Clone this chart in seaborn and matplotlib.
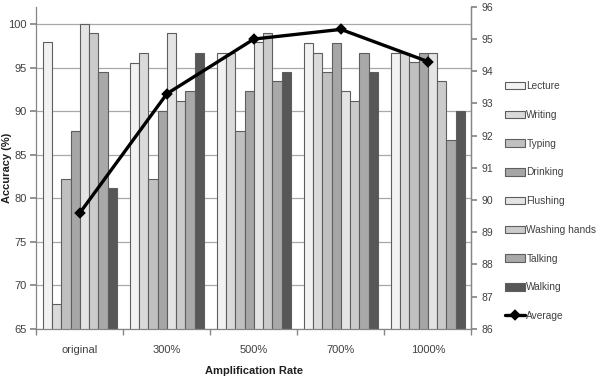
import matplotlib
matplotlib.use("Agg")
import matplotlib.pyplot as plt
from matplotlib.ticker import FixedLocator, NullFormatter
import seaborn as sns
import pandas as pd

sns.set_theme(style="white")
plt.rcParams["font.family"] = ["Liberation Sans", "DejaVu Sans"]

# data
rates = ["original", "300%", "500%", "700%", "1000%"]
activities = ["Lecture", "Writing", "Typing", "Drinking", "Flushing",
              "Washing hands", "Talking", "Walking"]
lecture = [98.0, 95.6, 96.7, 97.9, 96.7]
writing = [67.8, 96.7, 96.7, 96.7, 96.7]
typing = [82.2, 82.2, 87.7, 94.5, 95.7]
drinking = [87.7, 90.0, 92.3, 97.9, 96.7]
flushing = [100.0, 99.0, 98.0, 92.3, 96.7]
washing = [99.0, 91.2, 99.0, 91.2, 93.5]
talking = [94.5, 92.3, 93.5, 96.7, 86.7]
walking = [81.2, 96.7, 94.5, 94.5, 90.0]
average = [89.6, 93.3, 95.0, 95.3, 94.3]

colors = ["#f2f2f2", "#dadada", "#c0c0c0", "#a6a6a6", "#e4e4e4",
          "#cbcbcb", "#a9a9a9", "#575757"]

series = [lecture, writing, typing, drinking, flushing, washing, talking, walking]
rows = []
for act, vals in zip(activities, series):
    for r, v in zip(rates, vals):
        rows.append({"rate": r, "activity": act, "acc": v})
df = pd.DataFrame(rows)
avg_df = pd.DataFrame({"rate": rates, "avg": average})

fig = plt.figure(figsize=(5.96, 3.81), dpi=100)
ax = fig.add_axes([0.061, 0.137, 0.730, 0.845])

sns.barplot(data=df, x="rate", y="acc", hue="activity", order=rates,
            hue_order=activities, palette=colors, width=0.85,
            edgecolor="#5e5e5e", linewidth=0.8, ax=ax)
handles, labels = ax.get_legend_handles_labels()
ax.get_legend().remove()

ax.set_ylim(65, 102)
ax.set_yticks(range(65, 101, 5))
ax.set_xlim(-0.5, 4.5)
ax.yaxis.grid(True, color="#a8a8a8", linewidth=0.9)
ax.set_axisbelow(True)
ax.xaxis.set_minor_locator(FixedLocator([i - 0.5 for i in range(6)]))
ax.xaxis.set_minor_formatter(NullFormatter())
ax.tick_params(axis="x", which="major", length=0, labelsize=8,
               labelcolor="#404040", pad=12)
ax.tick_params(axis="x", which="minor", length=4, color="#868686",
               direction="out", bottom=True)
ax.tick_params(axis="y", length=4, color="#868686", left=True,
               labelsize=8, labelcolor="#404040", pad=3)
ax.spines["top"].set_visible(False)
for s in ["left", "bottom", "right"]:
    ax.spines[s].set_color("#868686")
    ax.spines[s].set_linewidth(0.9)

ax.set_xlabel("Amplification Rate", fontsize=8, color="#202020",
              fontweight="bold")
ax.xaxis.set_label_coords(0.5, -0.115)
ax.set_ylabel("Accuracy (%)", fontsize=8, color="#202020",
              fontweight="bold")
ax.yaxis.set_label_coords(-0.056, 0.5)

ax2 = ax.twinx()
sns.pointplot(data=avg_df, x="rate", y="avg", order=rates, color="black",
              markers="D", markersize=4, linewidth=2.4, ax=ax2,
              label="Average")
if ax2.get_legend() is not None:
    ax2.get_legend().remove()
ax2.set_ylim(86, 96)
ax2.set_yticks(range(86, 97))
ax2.set_ylabel("")
ax2.set_xlabel("")
ax2.tick_params(axis="y", length=4, color="#868686", right=True,
                labelsize=7.5, labelcolor="#404040", pad=3)
for s in ["top", "left", "bottom"]:
    ax2.spines[s].set_visible(False)
ax2.spines["right"].set_color("#868686")
ax2.spines["right"].set_linewidth(0.9)
ax2.set_xlim(-0.5, 4.5)

line_h, line_l = ax2.get_legend_handles_labels()
fig.legend(handles + line_h[:1], labels + line_l[:1], loc="upper left",
           bbox_to_anchor=(501 / 596, 1 - 77 / 381), frameon=False,
           fontsize=7.3, labelspacing=1.85, handlelength=2.0,
           handleheight=0.75, handletextpad=0.1, borderaxespad=0,
           labelcolor="#404040")

fig.savefig("out.png", dpi=100)
